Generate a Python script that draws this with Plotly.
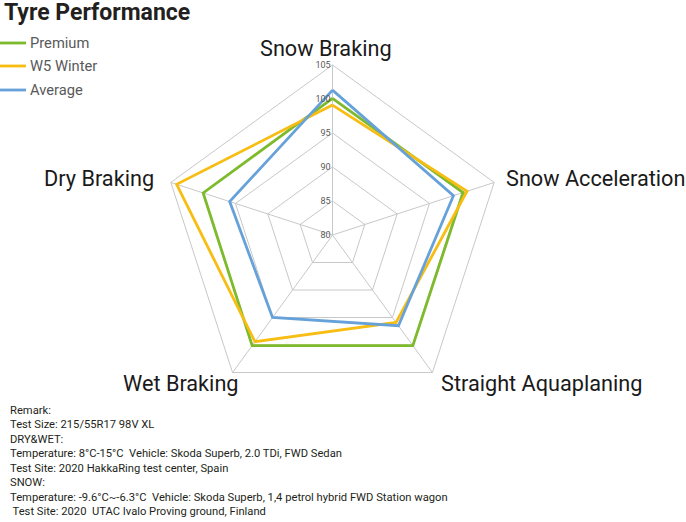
import plotly.graph_objects as go

# axes of the radar, clockwise from the top
categories = ['Snow Braking', 'Snow Acceleration', 'Straight Aquaplaning', 'Wet Braking', 'Dry Braking']

series_names = ['Premium', 'W5 Winter', 'Average']
premium = [100.1, 100.2, 100.1, 100.1, 100.0]
w5_winter = [99.1, 100.8, 95.9, 99.4, 104.1]
average = [101.3, 98.7, 96.5, 95.0, 95.9]
series_colors = ['#7dba2c', '#f8bd12', '#67a1da']

radial_ticks = [80, 85, 90, 95, 100, 105]

remark_lines = [
    'Remark:',
    'Test Size: 215/55R17 98V XL',
    'DRY&WET:',
    'Temperature: 8°C-15°C  Vehicle: Skoda Superb, 2.0 TDi, FWD Sedan',
    'Test Site: 2020 HakkaRing test center, Spain',
    'SNOW:',
    'Temperature: -9.6°C~-6.3°C  Vehicle: Skoda Superb, 1,4 petrol hybrid FWD Station wagon',
    ' Test Site: 2020  UTAC Ivalo Proving ground, Finland',
]

W, H = 686, 522
FONT = 'Roboto'


def px(x, y):
    # pixel position -> paper coords
    return x / W, 1 - y / H


fig = go.Figure()
for name, vals, col in zip(series_names, [premium, w5_winter, average], series_colors):
    fig.add_trace(go.Scatterpolar(
        r=vals + vals[:1],
        theta=categories + categories[:1],
        name=name,
        mode='lines',
        line=dict(color=col, width=2.8),
        showlegend=False,
        hoverinfo='skip',
    ))

# centre of radar and its radius in pixels
cx, cy, R = 332.5, 235, 170

fig.update_layout(
    width=W, height=H,
    margin=dict(l=0, r=0, t=0, b=0),
    paper_bgcolor='white',
    font=dict(family=FONT, color='#595959'),
    title=dict(text='<b>Tyre Performance</b>', x=4 / W, xanchor='left',
               y=px(0, 12)[1], yanchor='middle',
               font=dict(family=FONT, size=23, color='#231f20')),
    polar=dict(
        domain=dict(x=[(cx - R) / W, (cx + R) / W], y=[1 - (cy + R) / H, 1 - (cy - R) / H]),
        gridshape='linear',
        bgcolor='white',
        radialaxis=dict(range=[80, 105], tickvals=radial_ticks, angle=90, tickangle=90,
                        showline=False, gridcolor='#c8c8c8', gridwidth=1,
                        ticks='', tickfont=dict(size=9, color='#595959'),
                        side='counterclockwise'),
        angularaxis=dict(rotation=90, direction='clockwise',
                         linecolor='#c8c8c8', gridcolor='#c8c8c8',
                         ticks='', showticklabels=False),
    ),
)

# category labels around the radar
label_pos = [(326, 48, 'center'), (504, 178, 'left'), (439, 383, 'left'),
             (241, 383, 'right'), (156, 178, 'right')]
for cat, (lx, ly, anchor) in zip(categories, label_pos):
    ax_, ay_ = px(lx, ly)
    fig.add_annotation(text=cat, x=ax_, y=ay_, xref='paper', yref='paper',
                       xanchor=anchor, yanchor='middle', showarrow=False,
                       font=dict(family=FONT, size=21.7, color='#1a1a1a'))

# legend
legend_y = [43, 66, 90]
for name, col, ly in zip(series_names, series_colors, legend_y):
    x0, y0 = px(0, ly)
    x1, _ = px(26, ly)
    fig.add_shape(type='line', xref='paper', yref='paper', x0=x0, x1=x1, y0=y0, y1=y0,
                  line=dict(color=col, width=2.8))
    tx, _ = px(28, ly)
    fig.add_annotation(text=name, x=tx, y=y0, xref='paper', yref='paper',
                       xanchor='left', yanchor='middle', showarrow=False,
                       font=dict(family=FONT, size=14.7, color='#595959'))

line_y = [410, 424.5, 439, 453.5, 468, 482.5, 497, 511.5]
for txt, yy in zip(remark_lines, line_y):
    tx, ty = px(8, yy)
    fig.add_annotation(text=txt, x=tx, y=ty, xref='paper', yref='paper',
                       xanchor='left', yanchor='middle', showarrow=False,
                       font=dict(family=FONT, size=11.2, color='#231f20'))

fig.write_html("out.html", config={'displayModeBar': False},
               post_script="document.body.style.margin='0';")
